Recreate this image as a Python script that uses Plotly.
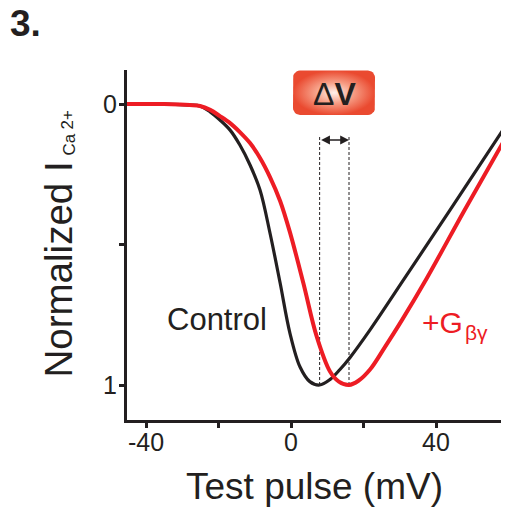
import math
import plotly.graph_objects as go

# ---------------- values ----------------
test_pulse_control = [-45.5, -35.0, -30.6, -27.9, -25.1, -22.3, -19.6, -16.8, -14.1, -11.3,
                      -8.55, -5.8, -3.0, -0.3, 2.5, 5.2, 7.9, 10.8, 13.5, 16.3,
                      21.8, 31.4, 43.9, 59.0]
current_control = [0.0, 0.0, 0.002, 0.004, 0.007, 0.028, 0.057, 0.093, 0.146, 0.217,
                   0.306, 0.459, 0.637, 0.815, 0.936, 0.988, 1.0, 0.980, 0.945, 0.902,
                   0.804, 0.619, 0.377, 0.082]

test_pulse_gbg = [-45.5, -35.0, -30.6, -27.9, -25.1, -22.3, -19.6, -16.8, -14.1, -11.3,
                  -8.55, -5.8, -3.0, -0.3, 3.4, 7.1, 10.8, 13.2, 16.0, 18.6,
                  21.8, 25.9, 30.6, 37.5, 47.9, 58.6]
current_gbg = [0.0, 0.0, 0.002, 0.004, 0.007, 0.021, 0.043, 0.068, 0.100, 0.139,
               0.192, 0.260, 0.345, 0.456, 0.637, 0.828, 0.953, 0.988, 1.0, 0.985,
               0.945, 0.865, 0.769, 0.619, 0.377, 0.134]

peak_voltages = [7.9, 16.0]          # voltages of the two current peaks (dashed guides)

x_tick_values = [-40, -20, 0, 20, 40]
x_tick_labels = ["-40", "", "0", "", "40"]
y_tick_values = [0, 0.5, 1]
y_tick_labels = ["0", "", "1"]

# ---------------- layout geometry (window pixels; page has an 8px body margin) ----------------
OFF = 8
WIN_W, WIN_H = 509, 517
W, H = WIN_W - OFF, WIN_H - OFF
PLOT_LEFT, PLOT_RIGHT, PLOT_TOP, PLOT_BOTTOM = 127, 505, 70, 420
L, T = PLOT_LEFT - OFF, PLOT_TOP - OFF
R, B = WIN_W - PLOT_RIGHT, WIN_H - PLOT_BOTTOM
PW, PH = PLOT_RIGHT - PLOT_LEFT, PLOT_BOTTOM - PLOT_TOP

X0_PX, X_SCALE = 291.0, 3.625     # window pixel of 0 mV, pixels per mV
Y0_PX, Y_SCALE = 104.0, 281.0     # window pixel of 0, pixels per unit


def px_to_x(px):
    return (px - X0_PX) / X_SCALE


def py_to_y(py):
    return (py - Y0_PX) / Y_SCALE


def px_paper(px):
    return (px - PLOT_LEFT) / PW


def py_paper(py):
    return (PLOT_BOTTOM - py) / PH


x_range = [px_to_x(PLOT_LEFT), px_to_x(PLOT_RIGHT)]
y_range = [py_to_y(PLOT_BOTTOM), py_to_y(PLOT_TOP)]

INK = "#231f20"
RED = "#ed1c24"
FONT = "Liberation Sans, Arial, Helvetica, sans-serif"

fig = go.Figure()

# ---- ΔV badge (rounded rectangle with radial gradient) ----
bx0, by0, bx1, by1, rad = 293, 70.5, 375, 115, 7
pts = []
for cx, cy, a0 in [(bx1 - rad, by0 + rad, -90), (bx1 - rad, by1 - rad, 0),
                   (bx0 + rad, by1 - rad, 90), (bx0 + rad, by0 + rad, 180)]:
    for k in range(7):
        a = math.radians(a0 + 15 * k)
        pts.append((cx + rad * math.cos(a), cy + rad * math.sin(a)))
pts.append(pts[0])
fig.add_trace(go.Scatter(
    x=[px_to_x(p[0]) for p in pts], y=[py_to_y(p[1]) for p in pts],
    mode="lines", fill="toself", line=dict(width=0, color="rgba(0,0,0,0)"),
    fillgradient=dict(type="radial",
                      colorscale=[[0, "#fff1eb"], [0.45, "#f7a189"], [1, "#ea4a30"]]),
    hoverinfo="skip", showlegend=False))

# ---- dashed peak guides ----
for v in peak_voltages:
    fig.add_trace(go.Scatter(
        x=[v, v], y=[py_to_y(137), 1.0], mode="lines",
        line=dict(color=INK, width=1, dash="3px,2px"),
        hoverinfo="skip", showlegend=False))

# ---- curves ----
fig.add_trace(go.Scatter(
    x=test_pulse_control, y=current_control, mode="lines", name="Control",
    line=dict(color=INK, width=3.2, shape="spline", smoothing=1.0),
    showlegend=False))
fig.add_trace(go.Scatter(
    x=test_pulse_gbg, y=current_gbg, mode="lines", name="+Gβγ",
    line=dict(color=RED, width=4, shape="spline", smoothing=1.0),
    showlegend=False))

annotations = [
    # panel number
    dict(text="<b>3.</b>", x=px_paper(9), y=py_paper(24), xanchor="left", yanchor="middle",
         font=dict(size=37, color=INK), borderpad=0),
    # x axis title
    dict(text="Test pulse (mV)", x=px_paper(314), y=py_paper(486.5),
         xanchor="center", yanchor="middle", font=dict(size=37, color=INK)),
    # y axis title
    dict(text="Normalized I", x=px_paper(58), y=py_paper(269.5), textangle=-90,
         xanchor="center", yanchor="middle", font=dict(size=38.5, color=INK)),
    dict(text="Ca", x=px_paper(68.5), y=py_paper(145), textangle=-90,
         xanchor="center", yanchor="middle", font=dict(size=17, color=INK)),
    dict(text="2+", x=px_paper(66.5), y=py_paper(120), textangle=-90,
         xanchor="center", yanchor="middle", font=dict(size=17, color=INK)),
    # series labels
    dict(text="Control", x=px_paper(216.7), y=py_paper(319), xanchor="center",
         yanchor="middle", font=dict(size=31, color=INK)),
    dict(text="+G", x=px_paper(420), y=py_paper(322), xanchor="left",
         yanchor="middle", font=dict(size=30, color=RED)),
    dict(text="βγ", x=px_paper(463), y=py_paper(332), xanchor="left",
         yanchor="middle", font=dict(size=21, color=RED)),
    # ΔV label
    dict(text="Δ<b>V</b>", x=px_paper(334.5), y=py_paper(94.5), xanchor="center",
         yanchor="middle", font=dict(size=32, color=INK)),
]
for a in annotations:
    a.update(xref="paper", yref="paper", showarrow=False)

# double-headed ΔV arrow between the peaks
annotations.append(dict(
    x=peak_voltages[1], y=py_to_y(140), ax=peak_voltages[0], ay=py_to_y(140),
    xref="x", yref="y", axref="x", ayref="y", text="", showarrow=True,
    arrowhead=2, startarrowhead=2, arrowside="end+start", arrowsize=1.1,
    arrowwidth=1.6, arrowcolor=INK, standoff=0, startstandoff=0))

fig.update_layout(
    width=W, height=H, margin=dict(l=L, r=R, t=T, b=B, pad=0),
    paper_bgcolor="white", plot_bgcolor="white",
    font=dict(family=FONT, color=INK),
    annotations=annotations,
    xaxis=dict(range=x_range, showline=True, linecolor=INK, linewidth=3,
               ticks="outside", ticklen=5, tickwidth=2.5, tickcolor=INK,
               tickvals=x_tick_values, ticktext=x_tick_labels, ticklabelstandoff=-7,
               tickfont=dict(size=25, color=INK), showgrid=False, zeroline=False),
    yaxis=dict(range=y_range, showline=True, linecolor=INK, linewidth=3,
               ticks="outside", ticklen=5, tickwidth=2.5, tickcolor=INK,
               tickvals=y_tick_values, ticktext=y_tick_labels, ticklabelstandoff=-3,
               tickfont=dict(size=25, color=INK), showgrid=False, zeroline=False),
)

fig.write_html("out.html")
